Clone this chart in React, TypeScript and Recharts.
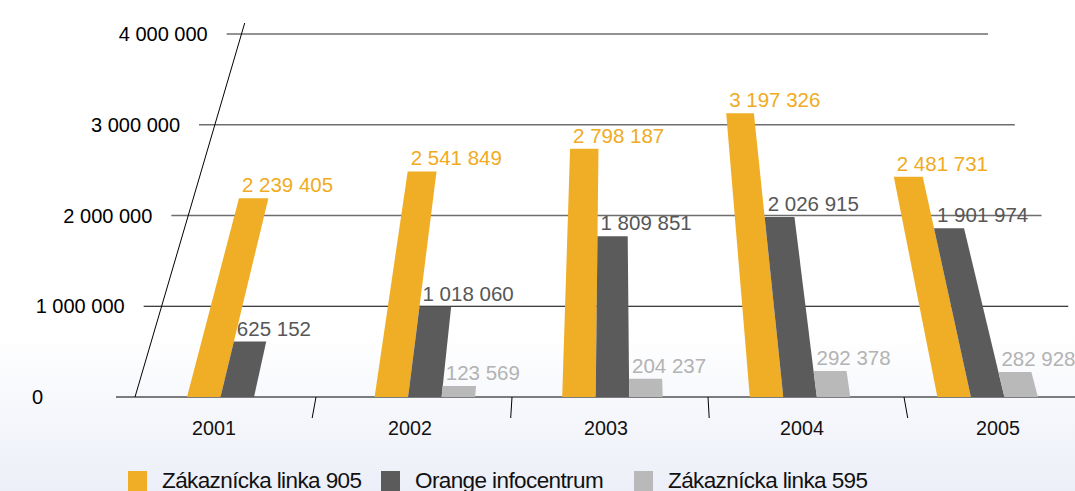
import React from 'react';
import { BarChart, Bar, XAxis, YAxis, CartesianGrid, Legend, LabelList } from 'recharts';

// ---- data ----
const years = ['2001', '2002', '2003', '2004', '2005'];
const linka905 = [2239405, 2541849, 2798187, 3197326, 2481731];
const infocentrum = [625152, 1018060, 1809851, 2026915, 1901974];
const linka595: (number | null)[] = [null, 123569, 204237, 292378, 282928];
const yTicks = [0, 1000000, 2000000, 3000000, 4000000];
const seriesNames = ['Zákaznícka linka 905', 'Orange infocentrum', 'Zákaznícka linka 595'];

const data = years.map((year, i) => ({
  year,
  linka905: linka905[i],
  infocentrum: infocentrum[i],
  linka595: linka595[i],
}));

// ---- style / layout ----
const FONT = '"Liberation Sans", Arial, Helvetica, sans-serif';
const COLORS = { orange: '#f0ae27', dark: '#5b5b5b', light: '#b9b9b9' };
const LABEL_COLORS = { orange: '#f0ab22', dark: '#575757', light: '#b3b3b3' };
const CHART_W = 1110;
const CHART_H = 491;
const MARGIN = { top: 34, right: 14, bottom: 0, left: 0 };
const Y_AXIS_W = 116;
const X_AXIS_H = 94;
const BASE_Y = CHART_H - MARGIN.bottom - X_AXIS_H; // baseline in px
const PLOT_W = CHART_W - MARGIN.left - MARGIN.right - Y_AXIS_W;
const BAND = PLOT_W / years.length;
// perspective: x coordinates converge toward a vanishing point as height grows
const VX = 614;
const DEPTH = 1633;
const persp = (x: number, h: number) => VX + (x - VX) * (1 - h / DEPTH);

const fmt = (v: number) => String(v).replace(/\B(?=(\d{3})+(?!\d))/g, ' ');

const makeShape = (fill: string) => (props: any) => {
  const { x, y, width, height } = props;
  if (height == null || !isFinite(height) || height <= 0) return <g />;
  const base = y + height;
  const pts = [
    [x, base],
    [x + width, base],
    [persp(x + width, height), y],
    [persp(x, height), y],
  ]
    .map((p) => p.join(','))
    .join(' ');
  return <polygon points={pts} fill={fill} />;
};

const makeLabel = (color: string) => (props: any) => {
  const vb = props.viewBox || props;
  const { value } = props;
  if (value == null || vb == null) return null;
  const x = vb.x;
  const y = vb.y;
  const h = vb.height;
  if (!isFinite(h) || h <= 0) return null;
  return (
    <text x={persp(x, h) + 3} y={y - 6} fill={color} fontSize={20.5} fontFamily={FONT}>
      {fmt(value)}
    </text>
  );
};

const GridLine = (props: any) => {
  const { x1, x2, y1 } = props;
  const h = BASE_Y - y1;
  const dark = h < 150;
  return (
    <line
      x1={persp(x1, h)}
      y1={y1}
      x2={persp(x2 - 1, h)}
      y2={y1}
      stroke={dark ? '#000000' : '#6e6e6e'}
      strokeWidth={dark ? 1 : 1.4}
    />
  );
};

const AXIS_X = Y_AXIS_W + 19;

const YTick = (props: any) => {
  const { y, payload } = props;
  const v = payload.value;
  const h = BASE_Y - y;
  const isZero = v === 0;
  const xr = isZero ? 43 : persp(Y_AXIS_W, h) - 19;
  return (
    <g>
      {isZero && (
        <line x1={AXIS_X} y1={BASE_Y} x2={persp(AXIS_X, BASE_Y - 23)} y2={23} stroke="#000" strokeWidth={1} />
      )}
      <text x={xr} y={y} dy="0.35em" textAnchor="end" fontSize={20} fontFamily={FONT} fill="#000">
        {fmt(v)}
      </text>
    </g>
  );
};

const XTick = (props: any) => {
  const { x, payload, index } = props;
  const bx = x - BAND / 2 + 4;
  return (
    <g>
      {index > 0 && (
        <line x1={bx} y1={BASE_Y} x2={persp(bx, -21)} y2={BASE_Y + 21} stroke="#000" strokeWidth={1} />
      )}
      <text x={x} y={428} dy="0.35em" textAnchor="middle" fontSize={19.7} fontFamily={FONT} fill="#111">
        {payload.value}
      </text>
    </g>
  );
};

const LegendContent = (props: any) => {
  const items = [...(props.payload || [])].sort(
    (a: any, b: any) => seriesNames.indexOf(a.value) - seriesNames.indexOf(b.value)
  );
  return (
    <div style={{ position: 'relative', height: 25, width: 800 }}>
      {items.map((e: any, i: number) => (
        <div key={i} style={{ position: 'absolute', left: i * 253, top: 0, display: 'flex', alignItems: 'flex-start' }}>
          <div style={{ width: 19, height: 20, marginTop: 5, background: e.color }} />
          <span
            style={{
              marginLeft: 15,
              marginTop: 4.5,
              fontSize: 22.5,
              lineHeight: '20px',
              letterSpacing: -0.6,
              fontFamily: FONT,
              color: '#111',
              whiteSpace: 'nowrap',
            }}
          >
            {e.value}
          </span>
        </div>
      ))}
    </div>
  );
};

export default function App() {
  return (
    <div
      style={{
        position: 'absolute',
        left: 0,
        top: 0,
        width: 1075,
        height: 491,
        overflow: 'hidden',
        background: 'linear-gradient(to bottom, #ffffff 0%, #ffffff 68%, #eceff8 100%)',
      }}
    >
      <BarChart width={CHART_W} height={CHART_H} data={data} margin={MARGIN} barGap={0}>
        <CartesianGrid vertical={false} horizontal={GridLine} />
        <XAxis
          dataKey="year"
          height={X_AXIS_H}
          axisLine={false}
          tickLine={false}
          interval={0}
          tick={XTick}
        />
        <XAxis xAxisId="bars" dataKey="year" hide padding={{ left: 27, right: 15 }} />
        <YAxis
          type="number"
          width={Y_AXIS_W}
          domain={[0, 4000000]}
          allowDataOverflow
          ticks={yTicks}
          interval={0}
          axisLine={false}
          tickLine={false}
          tick={YTick}
        />
        <YAxis yAxisId="bars" hide domain={[0, 4090000]} />
        <Legend
          layout="horizontal"
          verticalAlign="middle"
          align="center"
          itemSorter={null as any}
          content={LegendContent}
          wrapperStyle={{ left: 128, top: 466, width: 800 }}
        />
        <Bar
          dataKey="linka905"
          name={seriesNames[0]}
          xAxisId="bars"
          yAxisId="bars"
          fill={COLORS.orange}
          barSize={33.5}
          shape={makeShape(COLORS.orange)}
          isAnimationActive={false}
        >
          <LabelList dataKey="linka905" content={makeLabel(LABEL_COLORS.orange)} />
        </Bar>
        <Bar
          dataKey="infocentrum"
          name={seriesNames[1]}
          xAxisId="bars"
          yAxisId="bars"
          fill={COLORS.dark}
          barSize={33.5}
          shape={makeShape(COLORS.dark)}
          isAnimationActive={false}
        >
          <LabelList dataKey="infocentrum" content={makeLabel(LABEL_COLORS.dark)} />
        </Bar>
        <Bar
          dataKey="linka595"
          name={seriesNames[2]}
          xAxisId="bars"
          yAxisId="bars"
          fill={COLORS.light}
          barSize={33.5}
          shape={makeShape(COLORS.light)}
          isAnimationActive={false}
        >
          <LabelList dataKey="linka595" content={makeLabel(LABEL_COLORS.light)} />
        </Bar>
      </BarChart>
    </div>
  );
}
